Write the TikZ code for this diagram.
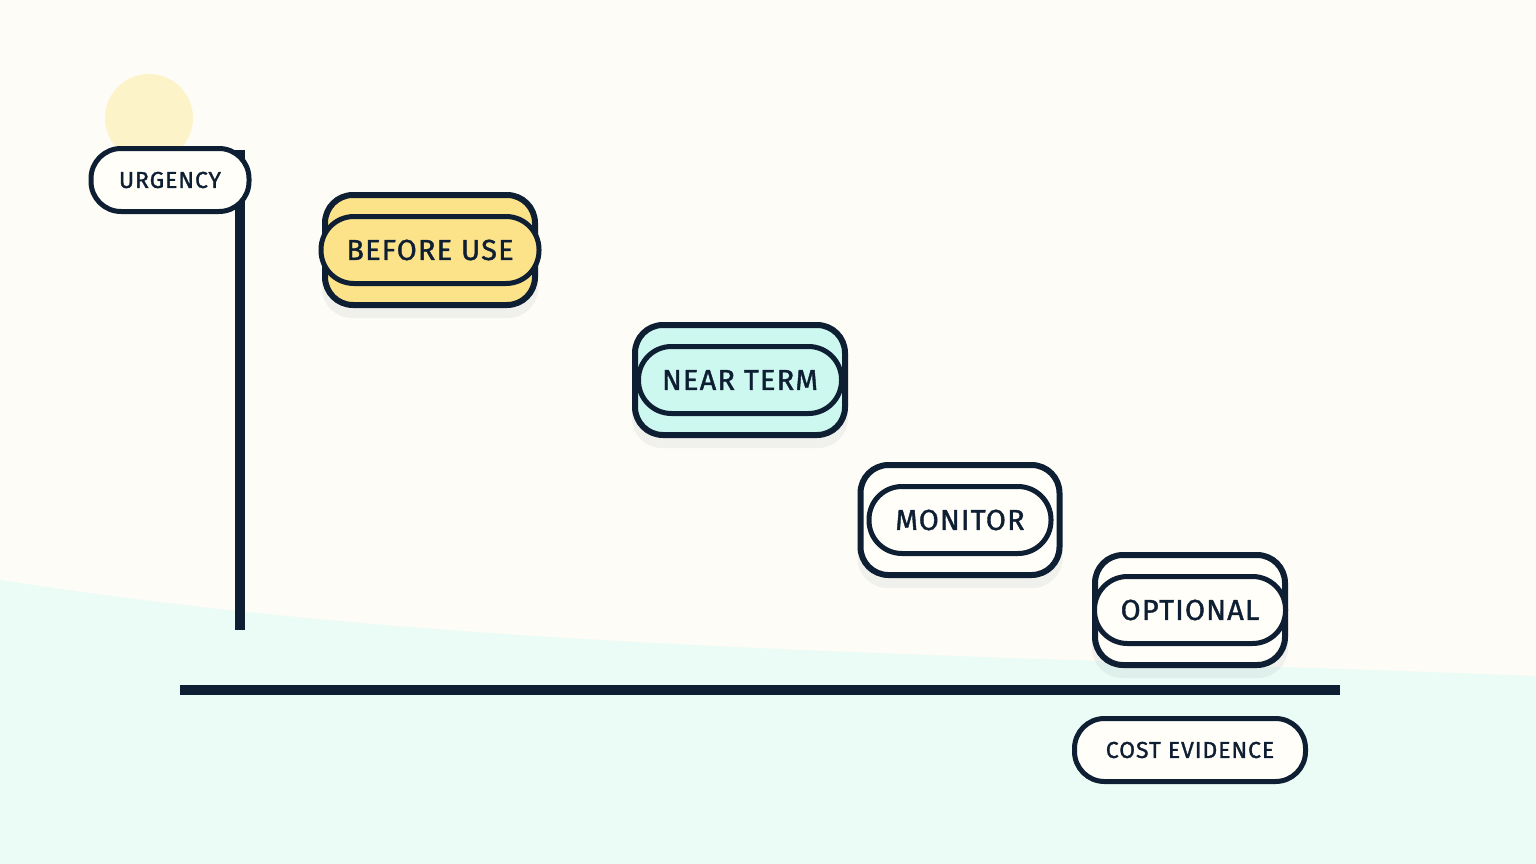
\documentclass[tikz,border=0pt]{standalone}
\usepackage{fontspec}
\setmainfont{Fira Sans}[FakeBold=1.3, LetterSpace=4]
\usetikzlibrary{positioning}

\definecolor{ink}{HTML}{0F1F33}
\definecolor{paper}{HTML}{FDFCF6}
\definecolor{mintbg}{HTML}{EBFBF5}
\definecolor{sun}{HTML}{FDF3C9}
\definecolor{amber}{HTML}{FCE38A}
\definecolor{aqua}{HTML}{CDF8EF}
\definecolor{cardwhite}{HTML}{FFFEF9}

\begin{document}
\begin{tikzpicture}[x=1pt, y=-1pt,
    card/.style={draw=ink, line width=6pt, rounded corners=28pt, inner sep=0pt,
      minimum height=110pt},
    tag/.style={draw=ink, line width=5pt, rounded corners=33pt, inner sep=0pt,
      minimum height=67pt, text=ink, font=\fontsize{29}{29}\selectfont},
    axislabel/.style={draw=ink, line width=5pt, rounded corners=30pt, inner sep=0pt,
      fill=cardwhite, minimum height=63pt, text=ink, font=\fontsize{23}{23}\selectfont},
    shadow/.style={fill=ink, opacity=0.05, rounded corners=30pt, draw=none}]
    \fill[paper] (0,0) rectangle (1536,864);
    \useasboundingbox (0,0) rectangle (1536,864);
    \fill[mintbg] (0,580) .. controls (450,650) and (900,652) .. (1536,676)
      -- (1536,864) -- (0,864) -- cycle;
    \fill[sun] (149,118) circle (44);

    % axes
    \coordinate (ytop) at (240,150);
    \coordinate (ybot) at (240,630);
    \coordinate (xleft) at (180,690);
    \coordinate (xright) at (1340,690);
    \draw[ink, line width=10pt] (ytop) -- (ybot);
    \draw[ink, line width=10pt] (xleft) -- (xright);
    \node[axislabel, minimum width=158pt] (urgency) at (170,180) {URGENCY};
    \node[axislabel, minimum width=231pt] (cost) at (1190,750) {COST EVIDENCE};

    % soft shadows
    \foreach \cx/\cy/\w in {430/258/216, 740/388/216, 960/528/205, 1190/618/196}
      \fill[shadow] (\cx-\w/2,\cy-52) rectangle (\cx+\w/2,\cy+60);

    % stacked cards
    \node[card, fill=amber, minimum width=210pt] (back1) at (430,250) {};
    \node[tag, fill=amber, minimum width=218pt] (before) at (back1) {BEFORE USE};
    \node[card, fill=aqua, minimum width=210pt] (back2) at (740,380) {};
    \node[tag, fill=aqua, minimum width=203pt] (near) at (back2) {NEAR TERM};
    \node[card, fill=cardwhite, minimum width=199pt] (back3) at (960,520) {};
    \node[tag, fill=cardwhite, minimum width=182pt] (monitor) at (back3) {MONITOR};
    \node[card, fill=cardwhite, minimum width=190pt] (back4) at (1190,610) {};
    \node[tag, fill=cardwhite, minimum width=191pt] (optional) at (back4) {OPTIONAL};
\end{tikzpicture}
\end{document}
